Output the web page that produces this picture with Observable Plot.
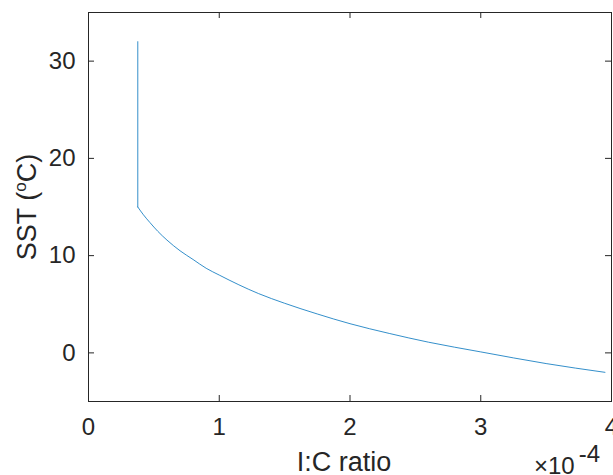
<!DOCTYPE html>
<html>
<head>
<meta charset="utf-8">
<script src="https://cdn.jsdelivr.net/npm/d3@7"></script>
<script src="https://cdn.jsdelivr.net/npm/@observablehq/plot@0.6"></script>
<style>
  body { margin: 0; background: #fff; }
  #chart svg { display: block; }
</style>
</head>
<body>
<div id="chart"></div>
<script>
// I:C ratio values (actual values, displayed ×10^-4) and SST (°C)
const icRatio = [0.377e-4, 0.377e-4, 0.42e-4, 0.47e-4, 0.53e-4, 0.6e-4, 0.7e-4, 0.8e-4, 0.9e-4, 1.0e-4,
                 1.15e-4, 1.3e-4, 1.5e-4, 1.75e-4, 2.0e-4, 2.3e-4, 2.6e-4, 3.0e-4, 3.5e-4, 3.95e-4];
const sst     = [32.0, 15.0, 14.2, 13.4, 12.5, 11.6, 10.5, 9.6, 8.7, 8.0,
                 7.0, 6.1, 5.1, 4.0, 3.0, 2.0, 1.1, 0.1, -1.1, -2.0];
const xTicks = [0, 1e-4, 2e-4, 3e-4, 4e-4];
const yTicks = [0, 10, 20, 30];
const xLabel = "I:C ratio";
const yLabelParts = ["SST (", "o", "C)"];
const exponentParts = ["\u00d710", "-4"];

const data = icRatio.map((x, i) => ({x, y: sst[i]}));
const drop = data.slice(0, 2);    // vertical segment
const curve = data.slice(1);      // decreasing curve

const W = 613, H = 475;
const mL = 88, mR = 2, mT = 12, mB = 74;
const innerW = W - mL - mR, innerH = H - mT - mB;
const tickLen = 6;
const ink = "#262626";
const font = "'Liberation Sans', Arial, Helvetica, sans-serif";

const plot = Plot.plot({
  width: W, height: H,
  marginLeft: mL, marginRight: mR, marginTop: mT, marginBottom: mB,
  style: {fontFamily: font, fontSize: "24px", color: ink, background: "#fff"},
  x: {domain: [0, 4e-4]},
  y: {domain: [-5, 35]},
  marks: [
    Plot.line(drop, {x: "x", y: "y", stroke: "#0072BD", strokeWidth: 0.8}),
    Plot.line(curve, {x: "x", y: "y", stroke: "#0072BD", strokeWidth: 0.8, curve: "monotone-x"}),
    Plot.frame({stroke: ink, strokeWidth: 1}),
    // inward ticks on all four sides
    Plot.tickX(xTicks, {x: d => d, stroke: ink, insetTop: innerH - tickLen}),
    Plot.tickX(xTicks, {x: d => d, stroke: ink, insetBottom: innerH - tickLen}),
    Plot.tickY(yTicks, {y: d => d, stroke: ink, insetRight: innerW - tickLen}),
    Plot.tickY(yTicks, {y: d => d, stroke: ink, insetLeft: innerW - tickLen}),
    Plot.axisX({ticks: xTicks, tickSize: 0, tickPadding: 16, label: null,
                tickFormat: d => String(Math.round(d * 1e4)), fill: ink}),
    Plot.axisY({ticks: yTicks, tickSize: 0, tickPadding: 13, label: null,
                tickFormat: d => String(d), fill: ink})
  ]
});

document.getElementById("chart").appendChild(plot);
const svg = d3.select(plot);

// x label
svg.append("text")
  .attr("x", 344).attr("y", 471)
  .attr("text-anchor", "middle")
  .attr("font-family", font).attr("font-size", 27).attr("fill", ink)
  .text(xLabel);

// y label with superscript degree "o"
const yl = svg.append("text")
  .attr("transform", "translate(35.5,207) rotate(-90)")
  .attr("text-anchor", "middle")
  .attr("font-family", font).attr("font-size", 27).attr("fill", ink);
yl.append("tspan").text(yLabelParts[0]);
yl.append("tspan").attr("font-size", 17).attr("dy", -10).text(yLabelParts[1]);
yl.append("tspan").attr("dy", 10).text(yLabelParts[2]);

// exponent multiplier
const ex = svg.append("text")
  .attr("x", 534).attr("y", 474)
  .attr("text-anchor", "start")
  .attr("font-family", font).attr("font-size", 24).attr("fill", ink);
ex.append("tspan").text(exponentParts[0]);
ex.append("tspan").attr("dx", 4).attr("dy", -12).text(exponentParts[1]);
</script>
</body>
</html>
